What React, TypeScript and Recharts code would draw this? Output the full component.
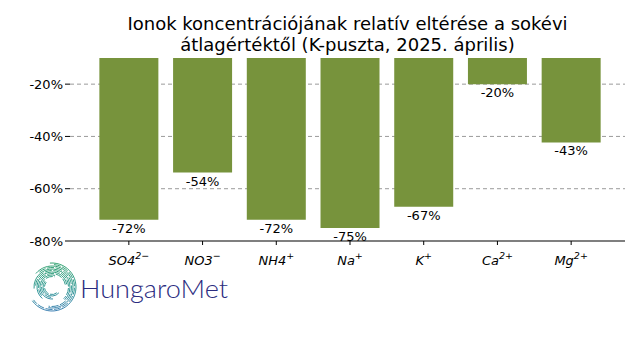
import { BarChart, Bar, XAxis, YAxis, CartesianGrid, LabelList } from "recharts";

const ions = ["SO4", "NO3", "NH4", "Na", "K", "Ca", "Mg"];
const charges = ["2\u2212", "\u2212", "+", "+", "+", "2+", "2+"];
const deviation = [-71.9, -53.8, -71.9, -75.0, -66.9, -20.0, -42.3];
const yTicks = [-80, -60, -40, -20];
const gridValues = [-60, -40, -20];

const data = ions.map((ion, i) => ({ ion, charge: charges[i], value: deviation[i] }));

const FONT = "'DejaVu Sans', sans-serif";

const IonTick = (props: any) => {
  const { x, y, index } = props;
  return (
    <text
      x={x}
      y={y + 18}
      textAnchor="middle"
      fontFamily={FONT}
      fontSize={13}
      fontStyle="italic"
      fill="#000"
    >
      {ions[index]}
      <tspan fontSize={9.5} dy={-6}>{charges[index]}</tspan>
    </text>
  );
};

const ValueLabel = (props: any) => {
  const { x, y, width, height, value } = props;
  const bottom = Math.max(y, y + height);
  return (
    <text
      x={x + width / 2}
      y={bottom + 13}
      textAnchor="middle"
      fontFamily={FONT}
      fontSize={13}
      fill="#000"
    >
      {`${Math.floor(value)}%`}
    </text>
  );
};

// spiral rings of the logo: radius, start angle, sweep (degrees, clockwise from +x)
const rings = [
  [24, 265, 240],
  [21, 220, 240],
  [18, 175, 230],
  [15, 130, 220],
  [12, 85, 200],
  [9, 40, 180],
];

const arcPath = (cx: number, cy: number, r: number, a0: number, sweep: number) => {
  const rad = Math.PI / 180;
  const x0 = cx + r * Math.cos(a0 * rad);
  const y0 = cy + r * Math.sin(a0 * rad);
  const x1 = cx + r * Math.cos((a0 + sweep) * rad);
  const y1 = cy + r * Math.sin((a0 + sweep) * rad);
  return `M ${x0} ${y0} A ${r} ${r} 0 ${sweep > 180 ? 1 : 0} 1 ${x1} ${y1}`;
};

const Logo = () => (
  <svg width={220} height={60} style={{ position: "absolute", left: 25, top: 258 }}>
    <defs>
      <linearGradient id="spiral" x1="0" y1="0" x2="0" y2="58" gradientUnits="userSpaceOnUse">
        <stop offset="0%" stopColor="#1d9a58" />
        <stop offset="55%" stopColor="#1f8f8c" />
        <stop offset="100%" stopColor="#2a6cb2" />
      </linearGradient>
    </defs>
    {rings.map(([r, a0, sw], i) => (
      <g key={i}>
        <path d={arcPath(27, 29, r, a0, sw)} fill="none" stroke="url(#spiral)" strokeWidth={0.9} />
        <path
          d={arcPath(27, 29, r - 1.5, a0 + 10, sw - 10)}
          fill="none"
          stroke="url(#spiral)"
          strokeWidth={0.9}
          strokeDasharray="7 1.5"
        />
      </g>
    ))}
    <text
      x={55}
      y={40}
      fontFamily="Lato, sans-serif"
      fontWeight={300}
      fontSize={26}
      fill="#2b2c80"
      textLength={148}
      lengthAdjust="spacingAndGlyphs"
    >
      HungaroMet
    </text>
  </svg>
);

export default function App() {
  return (
    <div style={{ position: "relative", width: 640, height: 360, background: "#fff" }}>
      <style>{"body{margin:0}"}</style>
      <div
        style={{
          position: "absolute",
          left: 70,
          width: 555,
          top: 13,
          textAlign: "center",
          fontFamily: FONT,
          fontSize: 18,
          lineHeight: "21px",
          color: "#000",
        }}
      >
        Ionok koncentrációjának relatív eltérése a sokévi
        <br />
        átlagértéktől (K-puszta, 2025. április)
      </div>
      <BarChart
        width={640}
        height={360}
        data={data}
        margin={{ top: 58, right: 15, bottom: 89, left: 0 }}
        barCategoryGap="10%"
      >
        <CartesianGrid
          vertical={false}
          horizontalValues={gridValues}
          stroke="#808080"
          strokeDasharray="4 3"
          strokeWidth={0.8}
        />
        <XAxis
          dataKey="ion"
          height={30}
          padding={{ left: 22, right: 17 }}
          axisLine={{ stroke: "#000", strokeWidth: 1.2 }}
          tickLine={{ stroke: "#000" }}
          tickSize={4}
          tick={<IonTick />}
          interval={0}
        />
        <YAxis
          width={70}
          domain={[-80, -10]}
          allowDataOverflow
          ticks={yTicks}
          tickFormatter={(v: number) => `${v}%`}
          axisLine={false}
          tickLine={{ stroke: "#000" }}
          tickSize={5}
          tick={{ fontFamily: FONT, fontSize: 13, fill: "#000" }}
        />
        <Bar dataKey="value" fill="#77933c" isAnimationActive={false}>
          <LabelList dataKey="value" content={<ValueLabel />} />
        </Bar>
      </BarChart>
      <Logo />
    </div>
  );
}
